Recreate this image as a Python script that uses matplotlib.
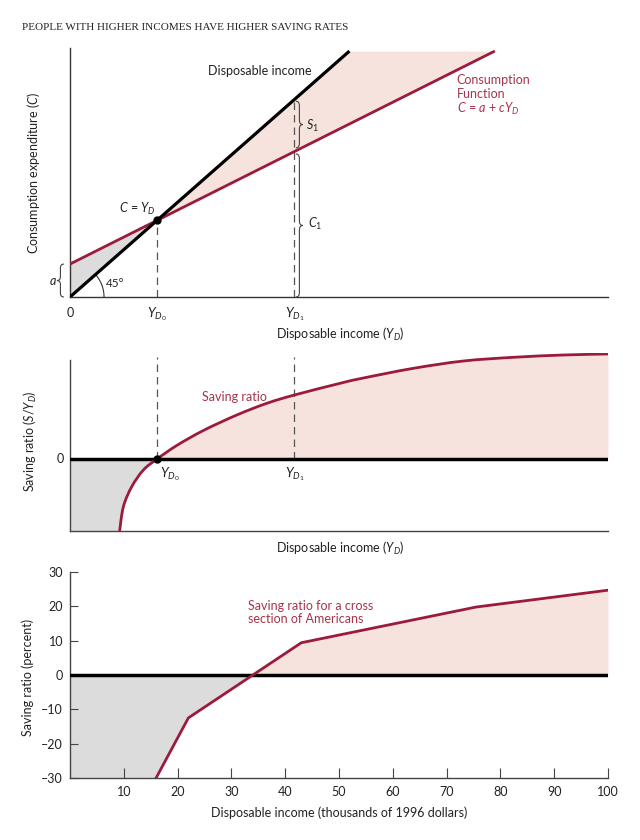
import numpy as np
import matplotlib
matplotlib.use("Agg")
import matplotlib.pyplot as plt
from matplotlib.path import Path
from matplotlib.patches import PathPatch

plt.rcParams['font.family'] = ['Lato', 'DejaVu Sans']
plt.rcParams['mathtext.fontset'] = 'custom'
plt.rcParams['mathtext.rm'] = 'Lato'
plt.rcParams['mathtext.it'] = 'Lato:italic'

# ------------------------------------------
# Data
# ------------------------------------------

# top panel: 45 degree line and consumption function (diagram units)
income_x = [0.0, 3.21]
income_y = [0.0, 3.21]
cons_x = [0.0, 4.88]
cons_y = [0.43, 3.21]
yd0 = 1.0
yd1 = 2.575

# middle panel: saving ratio curve
ratio_x = [0.57, 0.613, 0.709, 0.843, 1.0, 1.226, 1.532, 1.916, 2.261, 2.578,
           3.103, 3.371, 3.946, 4.52, 5.095, 5.67, 6.18]
ratio_y = [-0.72, -0.477, -0.277, -0.11, 0.0, 0.135, 0.285, 0.44, 0.557, 0.64,
           0.757, 0.81, 0.907, 0.98, 1.017, 1.04, 1.05]

# bottom panel: cross section of Americans
sr_income = [16, 22, 43, 75.5, 100]
sr_pct = [-30, -12.5, 9.4, 19.8, 24.7]
x_ticks = [10, 20, 30, 40, 50, 60, 70, 80, 90, 100]
y_ticks = [-30, -20, -10, 0, 10, 20, 30]

RED = '#9c1a3c'
RED_TXT = '#a5344a'
PINK = '#f6e3de'
GREY = '#dcdcdc'
DASH = '#555555'
TXT = '#222222'

W, H = 640, 840
fig = plt.figure(figsize=(6.4, 8.4), dpi=100)


def fx(px):
    return px / W


def fy(py):
    return 1 - py / H


def brace(ax, x, y0, y1, w, r):
    ym = (y0 + y1) / 2
    xm = x + w / 2
    verts = [(x, y0), (xm, y0), (xm, y0 + r), (xm, ym - r), (xm, ym), (x + w, ym),
             (xm, ym), (xm, ym + r), (xm, y1 - r), (xm, y1), (x, y1)]
    codes = [Path.MOVETO, Path.CURVE3, Path.CURVE3, Path.LINETO, Path.CURVE3, Path.CURVE3,
             Path.CURVE3, Path.CURVE3, Path.LINETO, Path.CURVE3, Path.CURVE3]
    ax.add_patch(PathPatch(Path(verts, codes), fill=False, lw=0.8, ec='#444444',
                           clip_on=False))


def smooth_path(xs, ys):
    # Catmull-Rom through the read points, drawn as cubic Bezier segments
    p = np.column_stack([xs, ys])
    p = np.vstack([p[0], p, p[-1]])
    verts = [tuple(p[1])]
    codes = [Path.MOVETO]
    for i in range(1, len(p) - 2):
        c1 = p[i] + (p[i + 1] - p[i - 1]) / 6
        c2 = p[i + 1] - (p[i + 2] - p[i]) / 6
        verts += [tuple(c1), tuple(c2), tuple(p[i + 1])]
        codes += [Path.CURVE4] * 3
    return Path(verts, codes)


fig.text(fx(22), fy(27), 'PEOPLE WITH HIGHER INCOMES HAVE HIGHER SAVING RATES',
         family='Liberation Serif', fontsize=8, va='center', color=TXT)

# ------------------------------------------
# Top panel
# ------------------------------------------

ax1 = fig.add_axes([fx(70), fy(297), 538 / W, 249 / H])
ax1.set_xlim(0, 6.18)
ax1.set_ylim(0, 3.25)
for s in ['top', 'right']:
    ax1.spines[s].set_visible(False)
for s in ['left', 'bottom']:
    ax1.spines[s].set_color('#333333')
    ax1.spines[s].set_linewidth(1.0)
ax1.set_xticks([])
ax1.set_yticks([])

xx = np.linspace(0, yd0, 50)
ax1.fill_between(xx, np.interp(xx, income_x, income_y), np.interp(xx, cons_x, cons_y),
                 color=GREY, lw=0)
xx = np.linspace(yd0, cons_x[-1], 200)
ax1.fill_between(xx, np.interp(xx, cons_x, cons_y), np.interp(xx, income_x, income_y),
                 color=PINK, lw=0)

ax1.plot(cons_x, cons_y, color=RED, lw=2.0, solid_capstyle='butt', zorder=3)
ax1.plot(income_x, income_y, color='black', lw=2.3, solid_capstyle='butt', zorder=4)
ax1.plot([yd0, yd0], [0, yd0], color=DASH, lw=0.9, dashes=(6, 4), zorder=2)
ax1.plot([yd1, yd1], [0, yd1], color=DASH, lw=0.9, dashes=(6, 4), zorder=2)
ax1.plot(yd0, yd0, 'o', color='black', ms=5, zorder=5)

# 45 degree arc
t = np.linspace(0, np.arctan(0.882), 40)
ax1.plot(34 * np.cos(t) / 87, 34 * np.sin(t) / 76.7, color='#333333', lw=0.8)
ax1.text(0.41, 0.18, '45°', fontsize=8.5, color=TXT, va='center')

c_yd1 = np.interp(yd1, cons_x, cons_y)
brace(ax1, yd1 + 0.02, c_yd1 + 0.05, yd1 - 0.02, 0.08, 0.06)
brace(ax1, yd1 + 0.02, 0.0, c_yd1 - 0.03, 0.08, 0.06)
brace(ax1, -0.07, 0.0, cons_y[0], -0.08, 0.05)

ax1.text(yd1 + 0.14, (c_yd1 + yd1) / 2, r'$S_1$', fontsize=9, color=TXT, va='center')
ax1.text(yd1 + 0.16, c_yd1 / 2, r'$C_1$', fontsize=9, color=TXT, va='center')
ax1.text(-0.2, cons_y[0] / 2, r'$a$', fontsize=9, color=TXT, va='center', ha='center')
ax1.text(0.98, 1.15, r'$C$ = $Y_D$', fontsize=9, color=TXT, ha='right', va='center')
ax1.text(2.78, 2.95, 'Disposable income', fontsize=9, color=TXT, ha='right', va='center')
ax1.text(4.44, 2.83, 'Consumption', fontsize=9, color=RED_TXT, va='center')
ax1.text(4.44, 2.65, 'Function', fontsize=9, color=RED_TXT, va='center')
ax1.text(4.44, 2.46, r'$C$ = $a$ + $cY_D$', fontsize=9, color=RED_TXT, va='center')

fig.text(fx(70), fy(313), '0', fontsize=9, color=TXT, ha='center', va='center')
fig.text(fx(157), fy(314), r'$Y_{D_0}$', fontsize=9.5, color=TXT, ha='center', va='center')
fig.text(fx(295), fy(314), r'$Y_{D_1}$', fontsize=9.5, color=TXT, ha='center', va='center')
fig.text(fx(340), fy(334), r'Disposable income ($Y_D$)', fontsize=9, color=TXT,
         ha='center', va='center')
fig.text(fx(34), fy(173), r'Consumption expenditure ($C$)', fontsize=9, color=TXT,
         ha='center', va='center', rotation=90)

# ------------------------------------------
# Middle panel
# ------------------------------------------

ax2 = fig.add_axes([fx(70), fy(531), 538 / W, 178 / H])
ax2.set_xlim(0, 6.18)
ax2.set_ylim(-0.72, 1.06)
for s in ['top', 'right']:
    ax2.spines[s].set_visible(False)
for s in ['left', 'bottom']:
    ax2.spines[s].set_color('#444444')
    ax2.spines[s].set_linewidth(1.0)
ax2.spines['left'].set_bounds(-0.72, 0.99)
ax2.set_xticks([])
ax2.set_yticks([])

curve = smooth_path(ratio_x, ratio_y)
pts = curve.interpolated(20).vertices
yy = np.linspace(-0.72, 0, 60)
neg = pts[pts[:, 1] <= 0.001]
ax2.fill_betweenx(yy, 0, np.interp(yy, neg[:, 1], neg[:, 0]), color=GREY, lw=0)
pos = pts[pts[:, 0] >= yd0]
ax2.fill_between(pos[:, 0], 0, pos[:, 1], color=PINK, lw=0)

ax2.axhline(0, color='black', lw=2.5, zorder=3)
ax2.add_patch(PathPatch(curve, fill=False, ec=RED, lw=2.0, zorder=4))
ax2.plot([yd0, yd0], [0, 1.02], color=DASH, lw=0.9, dashes=(6, 4), zorder=2)
ax2.plot([yd1, yd1], [0, 1.02], color=DASH, lw=0.9, dashes=(6, 4), zorder=2)
ax2.plot(yd0, 0, 'o', color='black', ms=5, zorder=5)

ax2.text(1.52, 0.62, 'Saving ratio', fontsize=9, color=RED_TXT, va='center')
fig.text(fx(170), fy(474), r'$Y_{D_0}$', fontsize=9.5, color=TXT, ha='center', va='center')
fig.text(fx(295), fy(474), r'$Y_{D_1}$', fontsize=9.5, color=TXT, ha='center', va='center')
fig.text(fx(60), fy(459), '0', fontsize=9, color=TXT, ha='center', va='center')
fig.text(fx(340), fy(548), r'Disposable income ($Y_D$)', fontsize=9, color=TXT,
         ha='center', va='center')
fig.text(fx(30), fy(441), r'Saving ratio ($S$/$Y_D$)', fontsize=9, color=TXT,
         ha='center', va='center', rotation=90)

# ------------------------------------------
# Bottom panel
# ------------------------------------------

ax3 = fig.add_axes([fx(70), fy(778), 538 / W, 206 / H])
ax3.set_xlim(0, 100)
ax3.set_ylim(-30, 30)
for s in ['top', 'right']:
    ax3.spines[s].set_visible(False)
for s in ['left', 'bottom']:
    ax3.spines[s].set_color('#444444')
    ax3.spines[s].set_linewidth(1.0)

yy = np.linspace(-30, 0, 60)
ax3.fill_betweenx(yy, 0, np.interp(yy, sr_pct, sr_income), color=GREY, lw=0)
xx = np.linspace(np.interp(0, sr_pct, sr_income), 100, 200)
ax3.fill_between(xx, 0, np.interp(xx, sr_income, sr_pct), color=PINK, lw=0)

ax3.axhline(0, color='black', lw=2.5, zorder=3)
ax3.plot(sr_income, sr_pct, color=RED, lw=2.0, zorder=4)

ax3.set_xticks(x_ticks)
ax3.set_yticks(y_ticks)
ax3.set_yticklabels([str(v).replace('-', '\u2013') for v in y_ticks])
ax3.tick_params(axis='x', direction='in', length=7, width=0.8, color='#444444',
                labelsize=9, labelcolor=TXT, pad=6)
ax3.tick_params(axis='y', direction='in', length=6, width=0.8, color='#444444',
                labelsize=9, labelcolor=TXT, pad=5)

ax3.text(33, 20, 'Saving ratio for a cross', fontsize=9, color=RED_TXT, va='center')
ax3.text(33, 16.2, 'section of Americans', fontsize=9, color=RED_TXT, va='center')
fig.text(fx(339), fy(813), 'Disposable income (thousands of 1996 dollars)', fontsize=9,
         color=TXT, ha='center', va='center')
fig.text(fx(28), fy(677), 'Saving ratio (percent)', fontsize=9, color=TXT,
         ha='center', va='center', rotation=90)

fig.savefig('out.png', dpi=100, facecolor='white')
